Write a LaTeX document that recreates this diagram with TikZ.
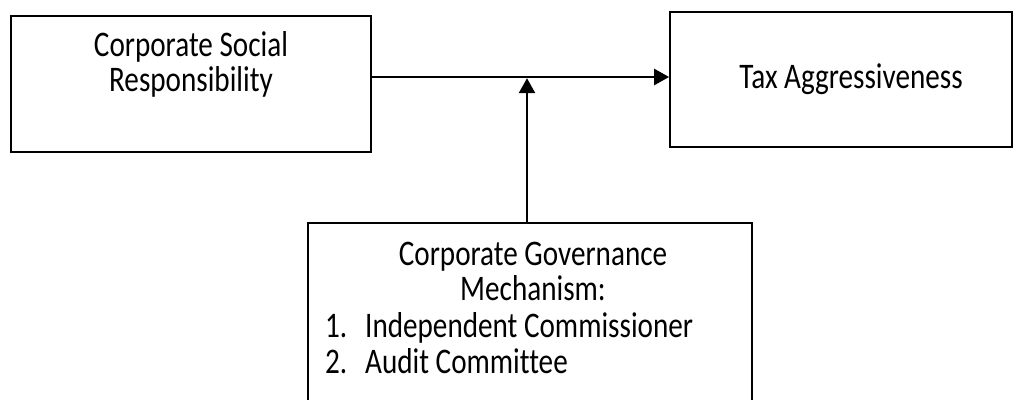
\documentclass[tikz,border=0pt]{standalone}
\usepackage{fontspec}
\setmainfont{Carlito}[FakeStretch=0.81, Ligatures=CommonOff]
\usetikzlibrary{arrows.meta}
\tikzset{
  box/.style={
    draw=black,
    line width=1.8pt,
    rectangle,
    inner sep=0pt
  },
  box-text/.style={font=\fontsize{36}{35}\selectfont, align=center, anchor=base, inner sep=0pt},
  item-text/.style={font=\fontsize{36}{35}\selectfont, anchor=base west, inner sep=0pt},
  link/.style={line width=2.6pt, -{Triangle[length=15pt,width=16pt]}}
}

\begin{document}
\begin{tikzpicture}[x=1pt,y=-1pt]
  \clip (0,0) rectangle (1016,399);
  % Boxes
  \node[box, minimum width=360pt, minimum height=136pt] (csr) at (191,84) {};
  \node[box, minimum width=342pt, minimum height=135pt] (tax) at (841,79.5) {};
  \node[box, minimum width=444pt, minimum height=200pt] (gov) at (530,323) {};
  % Texts (base = last line)
  \node[box-text] (csr-text) at (191,91) {Corporate Social\\Responsibility};
  \node[box-text] (tax-text) at (851,88) {Tax Aggressiveness};
  \node[box-text] (gov-text) at (533,300) {Corporate Governance\\Mechanism:};
  \foreach \entry [count=\i] in {Independent Commissioner, Audit Committee} {
    \node[item-text] (gov-item\i) at (325,{337+36*(\i-1)}) {\makebox[40pt][l]{\i.}\entry};
  }
  % Arrows
  \coordinate (mid) at (527,77);
  \draw[link] (csr.east |- mid) -- (tax.west |- mid);
  \draw[link, shorten >=1.2pt] (gov.north -| mid) -- (mid);
\end{tikzpicture}
\end{document}
